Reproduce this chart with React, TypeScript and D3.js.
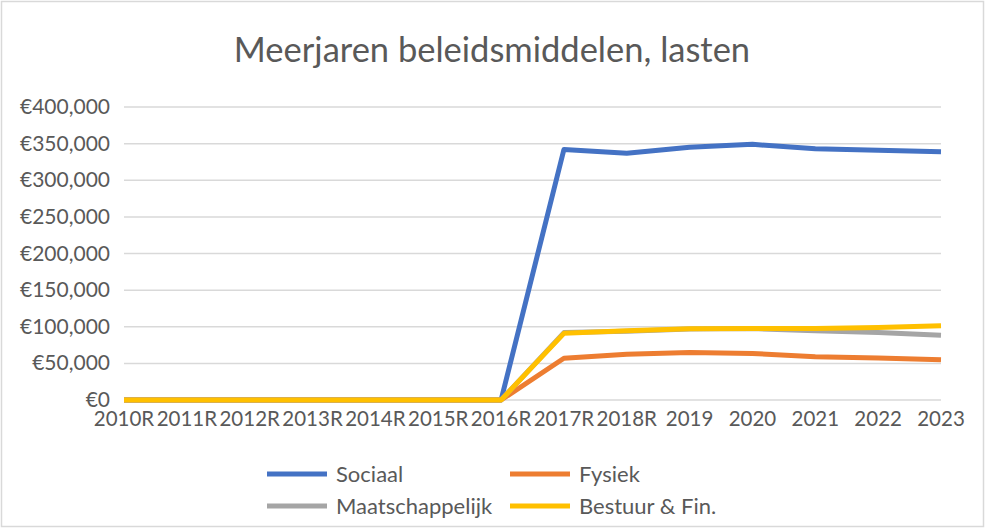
import React, { useEffect, useRef } from 'react';
import * as d3 from 'd3';

const categories = ['2010R', '2011R', '2012R', '2013R', '2014R', '2015R', '2016R', '2017R', '2018R', '2019', '2020', '2021', '2022', '2023'];
const sociaal = [0, 0, 0, 0, 0, 0, 0, 342000, 337000, 345000, 349000, 343000, 341000, 339000];
const fysiek = [0, 0, 0, 0, 0, 0, 0, 57000, 62500, 65000, 63500, 59000, 57500, 55000];
const maatschappelijk = [0, 0, 0, 0, 0, 0, 0, 92000, 94000, 97000, 97500, 94500, 92000, 88500];
const bestuur = [0, 0, 0, 0, 0, 0, 0, 91000, 94500, 97300, 97700, 97500, 99000, 101500];
const yTicks = [0, 50000, 100000, 150000, 200000, 250000, 300000, 350000, 400000];

const series = [
  { name: 'Sociaal', values: sociaal, color: '#4472c4' },
  { name: 'Fysiek', values: fysiek, color: '#ed7d31' },
  { name: 'Maatschappelijk', values: maatschappelijk, color: '#a5a5a5' },
  { name: 'Bestuur & Fin.', values: bestuur, color: '#ffc000' },
];

export default function App() {
  const ref = useRef<SVGSVGElement>(null);

  useEffect(() => {
    const svg = d3.select(ref.current);
    svg.selectAll('*').remove();
    const W = 985, H = 528;
    const font = 'Lato, "Open Sans", sans-serif';
    const txt = '#595959';

    // chart border
    svg.append('rect')
      .attr('x', 1.5).attr('y', 1.5).attr('width', W - 3).attr('height', H - 3)
      .attr('fill', '#fff').attr('stroke', '#d9d9d9').attr('stroke-width', 1.5);

    svg.append('text')
      .attr('x', 492).attr('y', 62)
      .attr('text-anchor', 'middle')
      .attr('font-family', font).attr('font-size', 34.5)
      .attr('fill', txt)
      .text('Meerjaren beleidsmiddelen, lasten');

    const x = d3.scalePoint<string>().domain(categories).range([124, 941]);
    const y = d3.scaleLinear().domain([0, 400000]).range([400, 107]);

    // gridlines
    svg.append('g').selectAll('line').data(yTicks).join('line')
      .attr('x1', 124).attr('x2', 941)
      .attr('y1', (d) => y(d)).attr('y2', (d) => y(d))
      .attr('stroke', '#d9d9d9').attr('stroke-width', 1.5);

    const fmt = d3.format(',');
    svg.append('g').selectAll('text').data(yTicks).join('text')
      .attr('x', 110).attr('y', (d) => y(d) + 7)
      .attr('text-anchor', 'end')
      .attr('font-family', font).attr('font-size', 21)
      .attr('fill', txt)
      .text((d) => '€' + fmt(d));

    svg.append('g').selectAll('text').data(categories).join('text')
      .attr('x', (d) => x(d)!).attr('y', 426)
      .attr('text-anchor', 'middle')
      .attr('font-family', font).attr('font-size', 20.5)
      .attr('fill', txt)
      .text((d) => d);

    const line = d3.line<number>()
      .x((_, i) => x(categories[i])!)
      .y((d) => y(d));

    svg.append('g').selectAll('path').data(series).join('path')
      .attr('d', (s) => line(s.values))
      .attr('fill', 'none')
      .attr('stroke', (s) => s.color)
      .attr('stroke-width', 5)
      .attr('stroke-linejoin', 'round');

    // legend 2x2
    const lg = svg.append('g').selectAll('g').data(series).join('g')
      .attr('transform', (_, i) => `translate(${i % 2 === 0 ? 267 : 510},${i < 2 ? 474 : 506})`);
    lg.append('line')
      .attr('x1', 0).attr('x2', 60).attr('y1', 0).attr('y2', 0)
      .attr('stroke', (s) => s.color).attr('stroke-width', 5);
    lg.append('text')
      .attr('x', 69).attr('y', 8)
      .attr('font-family', font).attr('font-size', 22)
      .attr('fill', txt)
      .text((s) => s.name);
  }, []);

  return (
    <svg ref={ref} width={985} height={528} style={{ position: 'absolute', left: 0, top: 0 }} />
  );
}
